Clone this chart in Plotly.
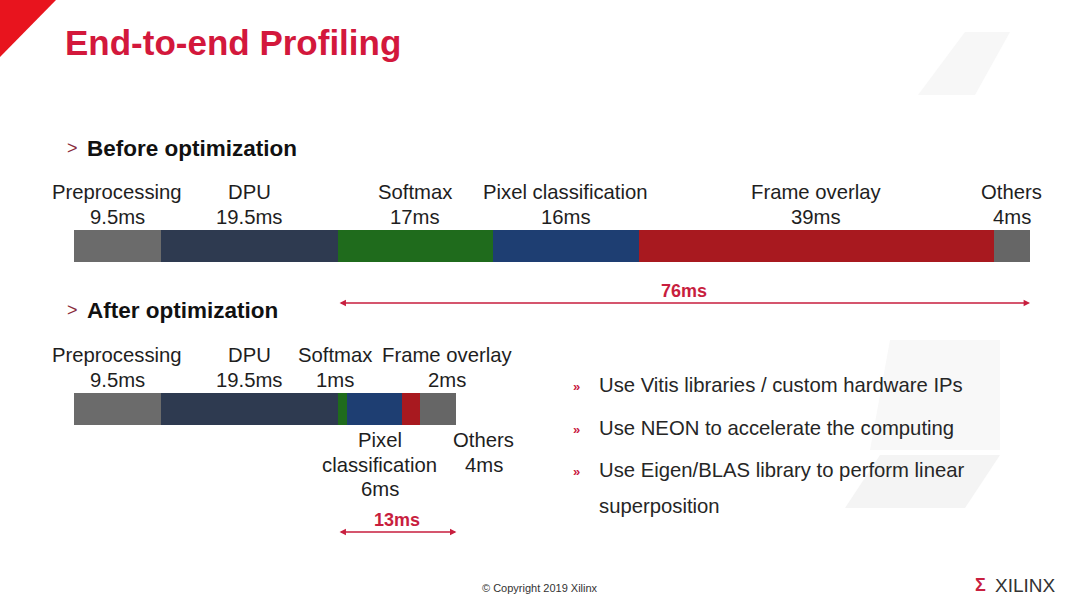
import plotly.graph_objects as go

# ---------------- data ----------------
stages = ["Preprocessing", "DPU", "Softmax", "Pixel classification", "Frame overlay", "Others"]
before_ms = [9.5, 19.5, 17, 16, 39, 4]
after_ms = [9.5, 19.5, 1, 6, 2, 4]
before_total_label = "76ms"
after_total_label = "13ms"
bullets = [
    ["Use Vitis libraries / custom hardware IPs"],
    ["Use NEON to accelerate the computing"],
    ["Use Eigen/BLAS library to perform linear", "superposition"],
]

# ---------------- style ----------------
colors = ["#6b6b6b", "#2e3a50", "#1f6b1c", "#1e3e72", "#a8191f", "#666666"]
W, H = 1080, 607
X0_PX, X1_PX = 74, 1030
scale = (X1_PX - X0_PX) / sum(before_ms)  # px per ms
FONT = "Liberation Sans, Arial, sans-serif"
RED = "#d3183c"
TXT = "#1e1e1e"
LBL = 20.3
LS = 24.5

BEFORE_Y, AFTER_Y, BAR_H = 246, 409, 32

fig = go.Figure()
for i, s in enumerate(stages):
    fig.add_trace(go.Bar(
        y=[BEFORE_Y, AFTER_Y], x=[before_ms[i], after_ms[i]],
        orientation="h", width=BAR_H, name=s,
        marker=dict(color=colors[i], line=dict(width=0)),
        hoverinfo="name+x", showlegend=False,
    ))

ann = []


def cum(vals):
    out, c = [], 0
    for v in vals:
        out.append(c)
        c += v
    return out


def lines(x, y_first, texts, xref="x", size=LBL, color=TXT, anchor="center", spacing=LS):
    for k, t in enumerate(texts):
        ann.append(dict(x=x, y=y_first + k * spacing, xref=xref, yref="y",
                        text=t, showarrow=False,
                        font=dict(family=FONT, size=size, color=color),
                        xanchor=anchor, yanchor="middle"))


b_start = cum(before_ms)
a_start = cum(after_ms)

# before labels (centered on segments)
for i, s in enumerate(stages):
    cx = b_start[i] + before_ms[i] / 2
    lines(cx, 192, [s, f"{before_ms[i]:g}ms"])

# after labels: above for some, below for others
above = {0: 0.0, 1: 0.0, 2: -0.85, 4: 4.0}
below = {3: 0.6, 5: 5.0}
for i, off in above.items():
    cx = a_start[i] + after_ms[i] / 2 + off
    lines(cx, 355, [stages[i], f"{after_ms[i]:g}ms"])
for i, off in below.items():
    cx = a_start[i] + after_ms[i] / 2 + off
    lines(cx, 440, stages[i].split(" ") + [f"{after_ms[i]:g}ms"])


# span arrows
def span(x_a, x_b, y, label):
    ann.append(dict(x=x_b, y=y, ax=x_a, ay=y, xref="x", yref="y", axref="x", ayref="y",
                    text="", showarrow=True, arrowhead=2, arrowside="end+start",
                    arrowsize=0.8, arrowwidth=1.6, arrowcolor="#c81e3e"))
    ann.append(dict(x=(x_a + x_b) / 2, y=y - 12, xref="x", yref="y", text=f"<b>{label}</b>",
                    showarrow=False, font=dict(family=FONT, size=18, color="#c81e3e"),
                    xanchor="center", yanchor="middle"))


span(b_start[2], sum(before_ms), 303, before_total_label)
span(a_start[2], sum(after_ms), 532, after_total_label)

# titles & headers (pixel positioned)
ann.append(dict(x=63, y=42, text="<b>End-to-end Profiling</b>",
                showarrow=False, font=dict(family=FONT, size=35, color=RED),
                xanchor="left", yanchor="middle"))
for yy, t in [(148, "Before optimization"), (310, "After optimization")]:
    ann.append(dict(x=65, y=yy, text=">", showarrow=False,
                    font=dict(family=FONT, size=18, color="#8a2a3a"),
                    xanchor="left", yanchor="middle"))
    ann.append(dict(x=85, y=yy, text=f"<b>{t}</b>", showarrow=False,
                    font=dict(family=FONT, size=22.5, color="#111111"),
                    xanchor="left", yanchor="middle"))

# bullets
for yy, t in zip([385, 428, 470], bullets):
    ann.append(dict(x=571, y=yy + 1, text="<b>»</b>", showarrow=False,
                    font=dict(family=FONT, size=13, color="#c8203f"),
                    xanchor="left", yanchor="middle"))
    for k, line in enumerate(t):
        ann.append(dict(x=597, y=yy + k * 36, text=line, showarrow=False,
                        font=dict(family=FONT, size=20.3, color="#262626"),
                        xanchor="left", yanchor="middle"))

# footer
ann.append(dict(x=540, y=588, text="© Copyright 2019 Xilinx", showarrow=False,
                font=dict(family=FONT, size=11, color="#333333"),
                xanchor="center", yanchor="middle"))
ann.append(dict(x=993, y=585, text="XILINX", showarrow=False,
                font=dict(family=FONT, size=19, color="#333333"),
                xanchor="left", yanchor="middle"))
ann.append(dict(x=973, y=585, text="<b>Σ</b>", showarrow=False,
                font=dict(family=FONT, size=18, color="#c8203f"),
                xanchor="left", yanchor="middle"))

# convert pixel-positioned annotations (those without xref) to paper coords
for a in ann:
    if a.get("xref") is None:
        a["xref"] = "paper"
        a["x"] = a["x"] / W
    if "yref" not in a:
        a["yref"] = "y"

shapes = [
    # red corner triangle
    dict(type="path", xref="paper", yref="paper",
         path=f"M 0 1 L {56/W} 1 L 0 {1-57/H} Z",
         fillcolor="#e8141e", line=dict(width=0), layer="above"),
    # faint decorative background shapes
    dict(type="path", xref="paper", yref="paper",
         path=f"M {965/W} {1-32/H} L {1010/W} {1-32/H} L {975/W} {1-95/H} L {918/W} {1-95/H} Z",
         fillcolor="#f7f7f7", line=dict(width=0), layer="below"),
    dict(type="path", xref="paper", yref="paper",
         path=f"M {890/W} {1-340/H} L {1000/W} {1-340/H} L {1000/W} {1-450/H} L {870/W} {1-450/H} Z",
         fillcolor="#f8f8f8", line=dict(width=0), layer="below"),
    dict(type="path", xref="paper", yref="paper",
         path=f"M {880/W} {1-455/H} L {1000/W} {1-455/H} L {965/W} {1-508/H} L {845/W} {1-508/H} Z",
         fillcolor="#f4f4f4", line=dict(width=0), layer="below"),
]

fig.update_layout(
    width=W, height=H, margin=dict(l=0, r=0, t=0, b=0),
    paper_bgcolor="white", plot_bgcolor="rgba(0,0,0,0)",
    barmode="stack", bargap=0,
    xaxis=dict(range=[-X0_PX / scale, (W - X0_PX) / scale], visible=False, fixedrange=True),
    yaxis=dict(range=[H, 0], visible=False, fixedrange=True),
    annotations=ann, shapes=shapes,
)

fig.write_html("out.html", config={"displayModeBar": False},
               post_script="document.body.style.margin='0';document.body.style.overflow='hidden';")
